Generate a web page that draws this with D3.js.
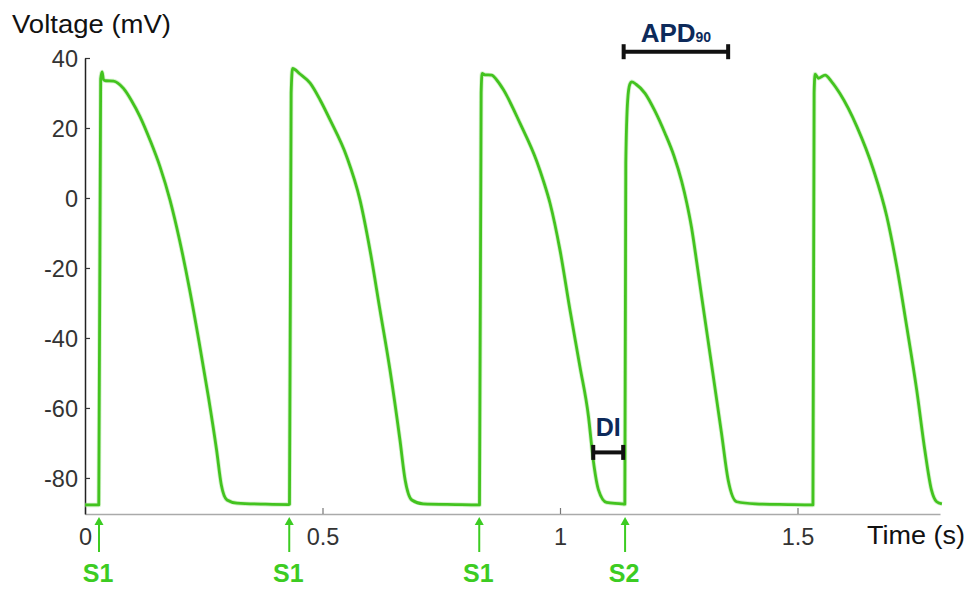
<!DOCTYPE html>
<html>
<head>
<meta charset="utf-8">
<script src="https://cdn.jsdelivr.net/npm/d3@7"></script>
<style>
  html, body { margin: 0; padding: 0; background: #fff; }
  svg { display: block; font-family: "Liberation Sans", Arial, Helvetica, sans-serif; }
</style>
</head>
<body>
<svg id="chart" width="971" height="590"></svg>
<script>
// Membrane voltage trace: five action potentials (S1 pacing, then an S2 extra-stimulus)
const timeS = [
  0.000, 0.029, 0.033, 0.036, 0.039, 0.044, 0.060, 0.081, 0.098, 0.116, 0.137, 0.158, 0.179, 0.199,
  0.220, 0.240, 0.260, 0.277, 0.287, 0.299, 0.320, 0.380, 0.429,
  0.4305, 0.4340, 0.437, 0.452, 0.474, 0.495, 0.516, 0.551, 0.579, 0.600, 0.621, 0.642, 0.663,
  0.674, 0.688, 0.712, 0.780, 0.829,
  0.8305, 0.8340, 0.836, 0.842, 0.856, 0.868, 0.881, 0.916, 0.951, 0.966, 0.979, 1.000, 1.021, 1.042,
  1.060, 1.070, 1.081, 1.098, 1.130, 1.135,
  1.1365, 1.1385, 1.1425, 1.147, 1.151, 1.160, 1.179, 1.200, 1.221, 1.240, 1.256, 1.267, 1.277,
  1.288, 1.298, 1.319, 1.340, 1.354, 1.372, 1.411, 1.480, 1.531,
  1.5325, 1.5350, 1.537, 1.544, 1.558, 1.572, 1.589, 1.625, 1.660, 1.688, 1.709, 1.730, 1.751,
  1.768, 1.782, 1.793, 1.804
];
const voltageMv = [
  -87.7, -87.7, 34.0, 36.0, 33.8, 33.5, 33.4, 31.3, 27.8, 23.2, 16.5, 8.9, -0.6, -12.0,
  -26.0, -41.0, -57.0, -72.0, -82.0, -86.3, -87.2, -87.5, -87.6,
  -87.5, 30.0, 37.0, 35.5, 32.8, 28.0, 22.3, 11.8, -0.6, -14.9, -32.0, -49.1, -69.1,
  -80.6, -86.3, -87.4, -87.6, -87.7,
  -87.7, 30.0, 35.6, 35.2, 35.1, 33.5, 30.9, 21.3, 10.5, 4.5, -1.5, -14.9, -32.0, -48.2,
  -62.5, -74.9, -83.4, -87.0, -87.4, -87.5,
  -87.5, 10.0, 28.0, 32.5, 33.2, 32.5, 29.9, 24.8, 18.5, 12.0, 4.8, -1.5, -8.5,
  -18.5, -28.0, -47.5, -67.2, -80.6, -86.8, -87.4, -87.6, -87.7,
  -87.7, 30.0, 35.4, 34.2, 35.1, 33.2, 29.9, 20.4, 8.0, -5.3, -19.6, -36.8, -54.9,
  -72.0, -83.4, -86.8, -87.4
];

// Stimulus markers below the time axis
const stimTimes = [0.0295, 0.430, 0.830, 1.137];
const stimLabels = ["S1", "S1", "S1", "S2"];

// Axis ticks
const xTicks = [0, 0.5, 1, 1.5];
const xTickLabels = ["0", "0.5", "1", "1.5"];
const yTicks = [-80, -60, -40, -20, 0, 20, 40];
const yTickLabels = ["-80", "-60", "-40", "-20", "0", "20", "40"];

// Interval brackets: APD90 of the S2 beat and the preceding diastolic interval
const intervalNames = ["APD", "DI"];
const intervalSubs = ["90", ""];
const intervalStart = [1.134, 1.070];
const intervalEnd = [1.354, 1.133];
const intervalLevelMv = [41.8, -72.7];

const svg = d3.select("#chart");

const x = d3.scaleLinear().domain([0, 1.8]).range([85, 940]);
const y = d3.scaleLinear().domain([-90.3, 40]).range([514, 58]);

const green = "#43c31f";
const stimGreen = "#3ccc22";
const navy = "#0d2a5a";
const tickFont = 23.5;

// Y axis (dark line, inward ticks)
const yAxis = d3.axisLeft(y)
  .tickValues(yTicks)
  .tickFormat((d, i) => yTickLabels[i])
  .tickSizeInner(-5)
  .tickSizeOuter(0)
  .tickPadding(7);
const gy = svg.append("g").attr("transform", `translate(${x(0)},0)`).call(yAxis);
gy.select(".domain").attr("stroke", "#222").attr("stroke-width", 1.5);
gy.selectAll(".tick line").attr("stroke", "#333").attr("stroke-width", 1.2);
gy.selectAll(".tick text")
  .attr("font-size", tickFont)
  .attr("font-family", null)
  .attr("fill", "#333")
  .attr("dy", "0.36em");

// X axis (light grey line, inward ticks)
const xAxis = d3.axisBottom(x)
  .tickValues(xTicks)
  .tickFormat((d, i) => xTickLabels[i])
  .tickSizeInner(-6)
  .tickSizeOuter(0)
  .tickPadding(14);
const gx = svg.append("g").attr("transform", `translate(0,${y(-90.3)})`).call(xAxis);
gx.select(".domain").attr("stroke", "#aaa").attr("stroke-width", 1.5);
gx.selectAll(".tick line").attr("stroke", "#777").attr("stroke-width", 1.2);
gx.selectAll(".tick text")
  .attr("font-size", tickFont)
  .attr("font-family", null)
  .attr("fill", "#333");
gy.raise();

// Axis titles
svg.append("text")
  .attr("x", 12).attr("y", 33)
  .attr("font-size", 26).attr("fill", "#111")
  .attr("textLength", 159).attr("lengthAdjust", "spacingAndGlyphs")
  .text("Voltage (mV)");
svg.append("text")
  .attr("x", 867).attr("y", 544)
  .attr("font-size", 26).attr("fill", "#111")
  .attr("textLength", 98).attr("lengthAdjust", "spacingAndGlyphs")
  .text("Time (s)");

// Voltage trace
const points = timeS.map((t, i) => [t, voltageMv[i]]);
const line = d3.line()
  .x(d => x(d[0]))
  .y(d => y(d[1]))
  .curve(d3.curveMonotoneX);
svg.append("path")
  .datum(points)
  .attr("d", line)
  .attr("fill", "none")
  .attr("stroke", "#9ee38a")
  .attr("stroke-width", 4.5)
  .attr("stroke-linejoin", "round")
  .attr("opacity", 0.45);
svg.append("path")
  .datum(points)
  .attr("d", line)
  .attr("fill", "none")
  .attr("stroke", green)
  .attr("stroke-width", 2.8)
  .attr("stroke-linejoin", "round");

// Stimulus arrows and labels
const stim = svg.append("g");
stimTimes.forEach((t, i) => {
  const sx = x(t);
  stim.append("line")
    .attr("x1", sx).attr("x2", sx)
    .attr("y1", 552).attr("y2", 523)
    .attr("stroke", stimGreen).attr("stroke-width", 2);
  stim.append("path")
    .attr("d", `M${sx},517 L${sx - 4.5},525 L${sx + 4.5},525 Z`)
    .attr("fill", stimGreen);
  stim.append("text")
    .attr("x", sx - 1).attr("y", 582)
    .attr("text-anchor", "middle")
    .attr("font-size", 25).attr("font-weight", "bold")
    .attr("fill", stimGreen)
    .text(stimLabels[i]);
});

// Interval brackets
const ann = svg.append("g");
intervalNames.forEach((name, i) => {
  const x0 = x(intervalStart[i]), x1 = x(intervalEnd[i]), yy = y(intervalLevelMv[i]);
  ann.append("line")
    .attr("x1", x0).attr("x2", x1).attr("y1", yy).attr("y2", yy)
    .attr("stroke", "#111").attr("stroke-width", 4);
  [x0, x1].forEach(cx => {
    ann.append("line")
      .attr("x1", cx).attr("x2", cx).attr("y1", yy - 7.5).attr("y2", yy + 7.5)
      .attr("stroke", "#111").attr("stroke-width", 4);
  });
  const label = ann.append("text")
    .attr("x", (x0 + x1) / 2)
    .attr("y", yy - 10 - (i === 0 ? 0 : 6))
    .attr("text-anchor", "middle")
    .attr("font-weight", "bold")
    .attr("fill", navy);
  label.append("tspan").attr("font-size", i === 0 ? 26 : 25).text(name);
  if (intervalSubs[i]) {
    label.append("tspan").attr("font-size", 14).text(intervalSubs[i]);
  }
});
</script>
</body>
</html>
